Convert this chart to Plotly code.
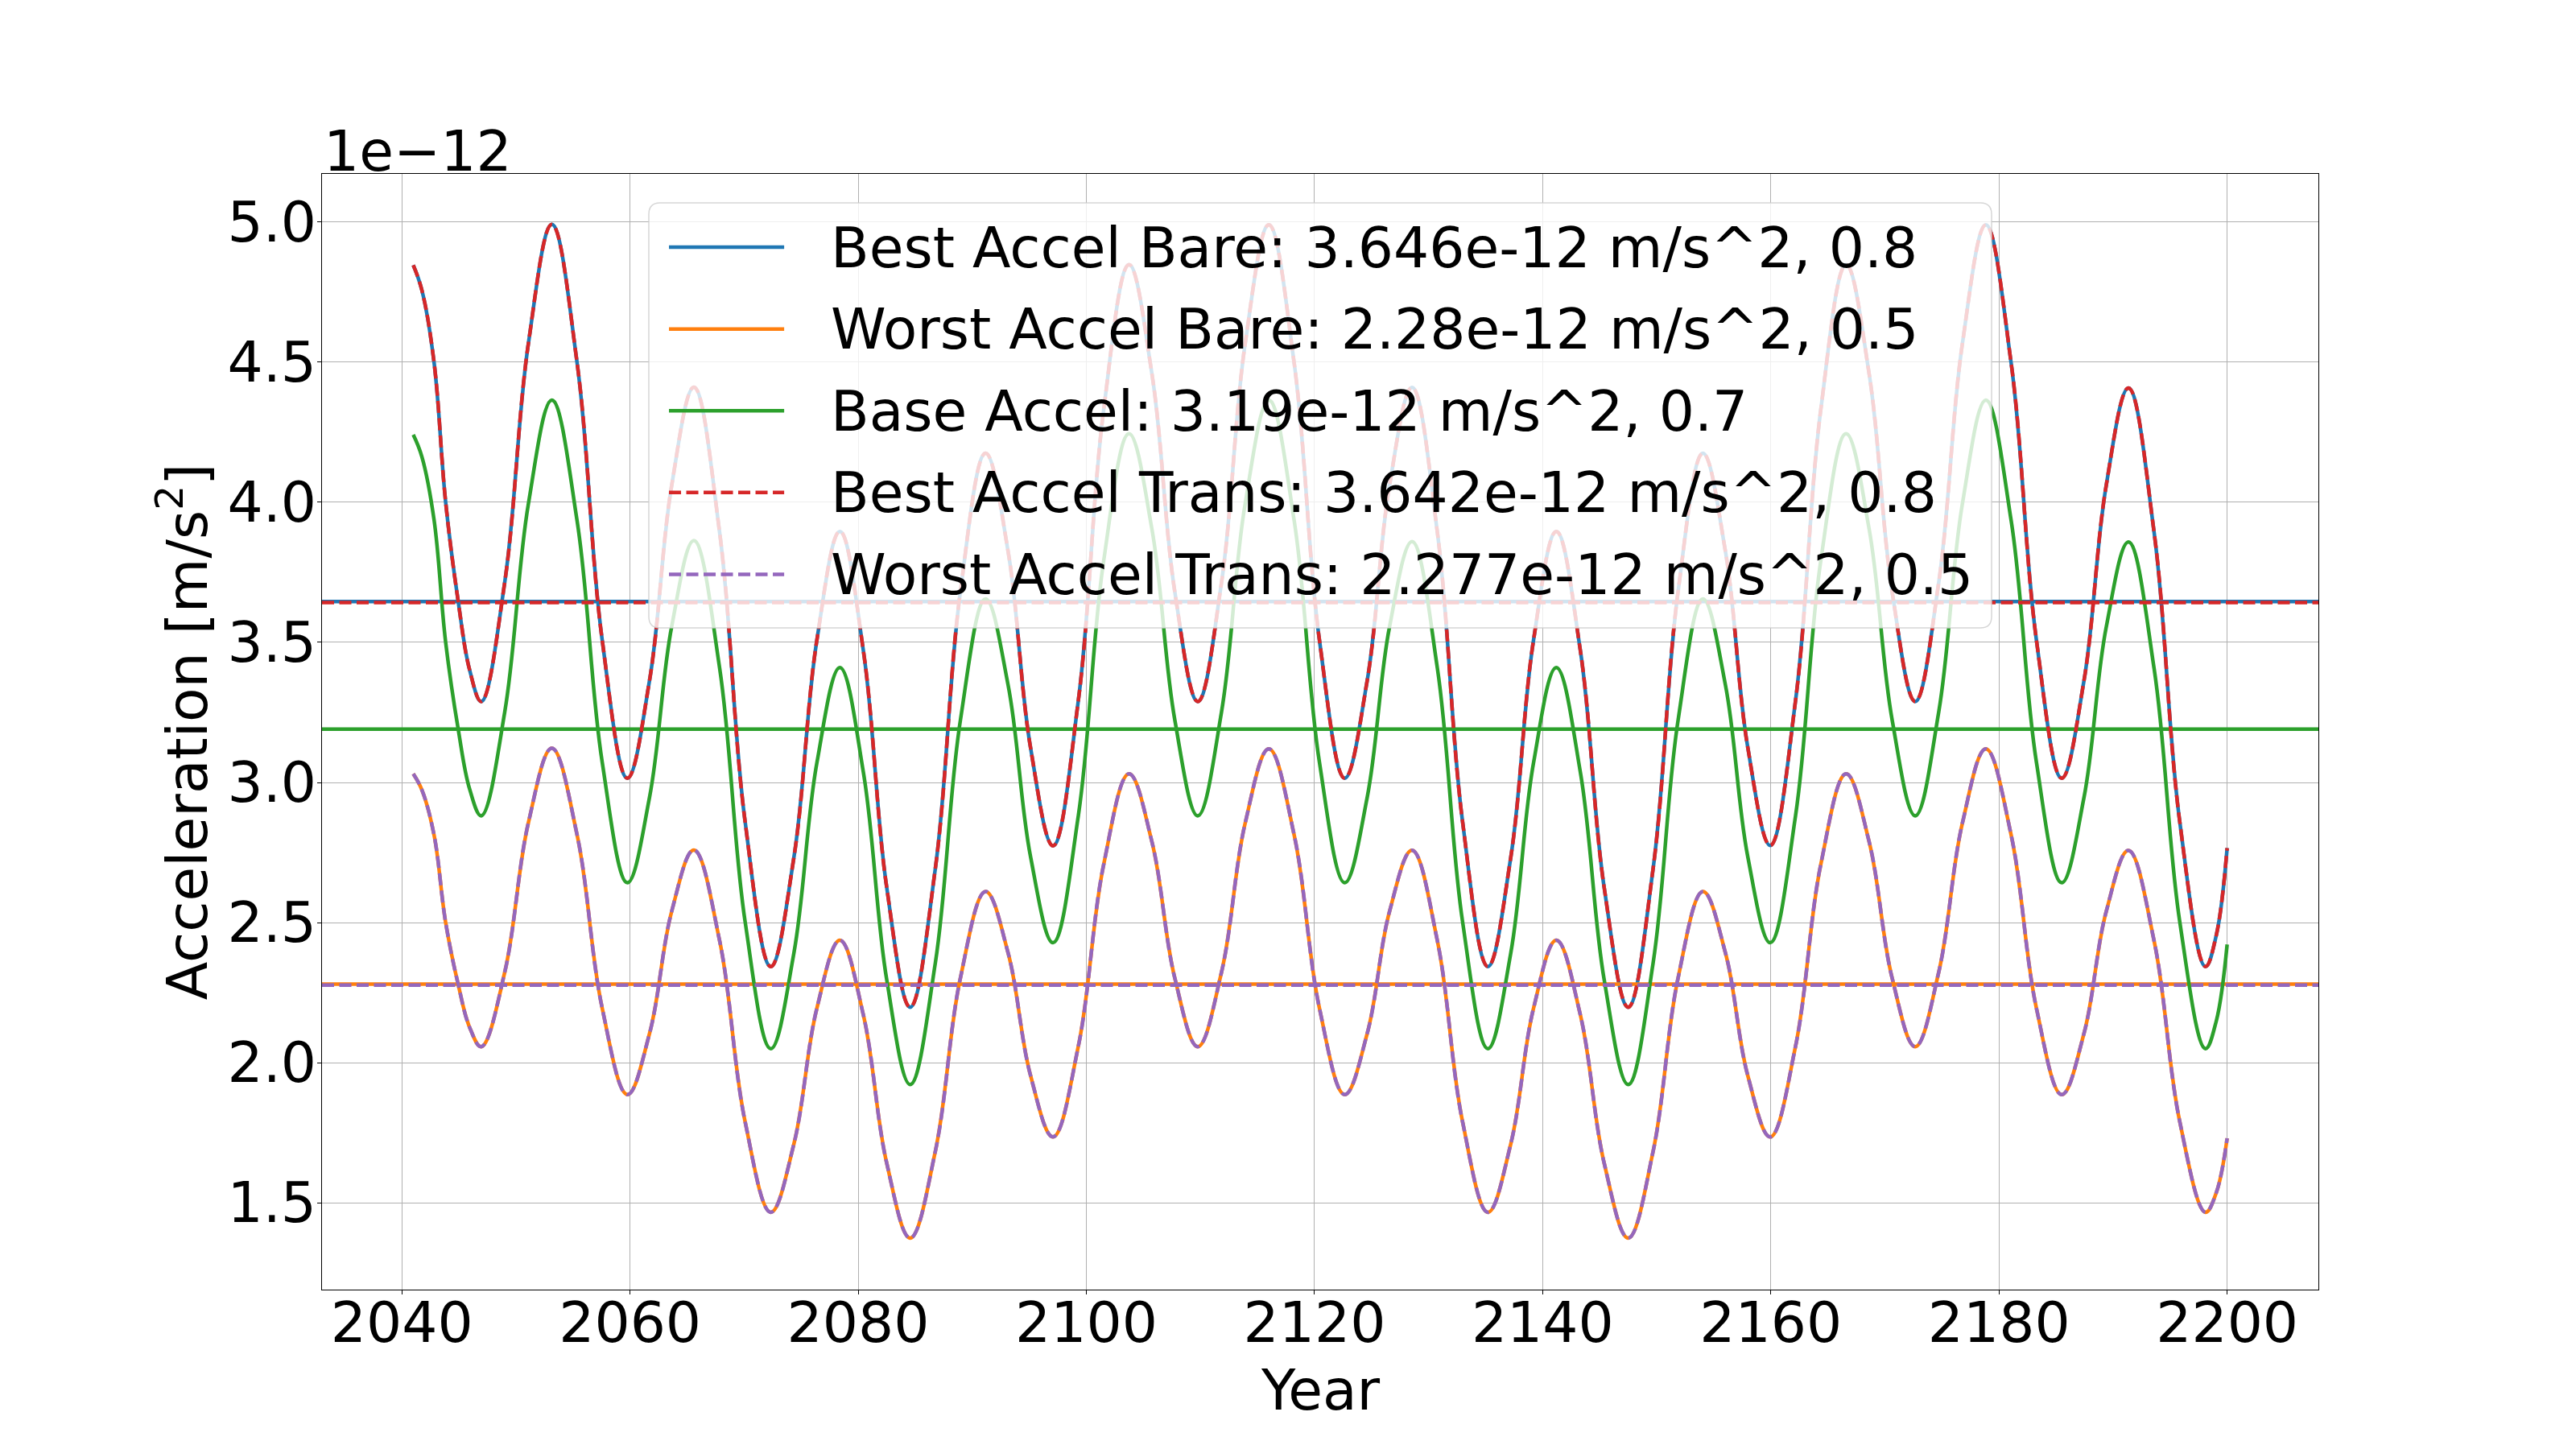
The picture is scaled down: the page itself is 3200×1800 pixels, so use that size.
import plotly.graph_objects as go

# ---------------- data (accelerations in units of 1e-12 m/s^2) ----------------
years = [2041.00, 2041.76, 2042.82, 2043.84, 2044.94, 2045.95, 2046.96,
         2049.02, 2051.09, 2053.15, 2055.36, 2057.56, 2059.77,
         2061.71, 2063.66, 2065.60, 2067.85, 2070.09, 2072.34, 2074.36, 2076.38, 2078.40, 2080.45,
         2082.51, 2084.56, 2086.76, 2088.96, 2091.17, 2093.14, 2095.11, 2097.08, 2099.30, 2101.52,
         2103.74, 2105.75, 2107.76, 2109.77, 2111.85, 2113.92, 2116.00, 2118.22, 2120.43, 2122.65,
         2124.62, 2126.58, 2128.55, 2130.77, 2132.98, 2135.20, 2137.20, 2139.20, 2141.20, 2143.30,
         2145.40, 2147.50, 2149.68, 2151.87, 2154.05, 2156.02, 2157.98, 2159.95, 2162.17, 2164.38,
         2166.60, 2168.62, 2170.64, 2172.66, 2174.72, 2176.79, 2178.85, 2181.07, 2183.28, 2185.50,
         2187.45, 2189.40, 2191.35, 2193.60, 2195.85, 2198.10, 2199.05, 2200.00]

best_bare = [4.846, 4.756, 4.500, 4.000, 3.646, 3.400, 3.289,
             3.715, 4.566, 4.992, 4.498, 3.509, 3.015,
             3.364, 4.062, 4.411, 3.894, 2.860, 2.343, 2.731, 3.508, 3.896, 3.472,
             2.623, 2.198, 2.692, 3.681, 4.175, 3.825, 3.124, 2.774, 3.293, 4.330,
             4.848, 4.458, 3.679, 3.289, 3.714, 4.565, 4.990, 4.496, 3.509, 3.015,
             3.364, 4.061, 4.410, 3.893, 2.860, 2.343, 2.731, 3.508, 3.896, 3.472,
             2.623, 2.198, 2.692, 3.681, 4.175, 3.825, 3.125, 2.775, 3.293, 4.330,
             4.848, 4.458, 3.679, 3.289, 3.714, 4.565, 4.990, 4.496, 3.509, 3.015,
             3.363, 4.060, 4.408, 3.892, 2.859, 2.343, 2.455, 2.766]

worst_bare = [3.031, 2.973, 2.813, 2.500, 2.279, 2.125, 2.057,
              2.323, 2.856, 3.122, 2.813, 2.195, 1.886,
              2.104, 2.541, 2.759, 2.436, 1.789, 1.466, 1.709, 2.194, 2.437, 2.171,
              1.640, 1.374, 1.683, 2.302, 2.611, 2.392, 1.954, 1.735, 2.059, 2.707,
              3.031, 2.788, 2.301, 2.057, 2.323, 2.854, 3.120, 2.812, 2.195, 1.886,
              2.104, 2.540, 2.758, 2.435, 1.789, 1.466, 1.709, 2.194, 2.437, 2.171,
              1.640, 1.374, 1.683, 2.302, 2.611, 2.392, 1.954, 1.735, 2.059, 2.707,
              3.031, 2.788, 2.301, 2.057, 2.323, 2.854, 3.120, 2.812, 2.195, 1.886,
              2.104, 2.539, 2.757, 2.434, 1.789, 1.466, 1.536, 1.730]

base = [4.241, 4.162, 3.938, 3.500, 3.190, 2.975, 2.881,
        3.252, 3.994, 4.365, 3.934, 3.073, 2.642,
        2.947, 3.558, 3.863, 3.410, 2.503, 2.050, 2.390, 3.070, 3.410, 3.038,
        2.294, 1.922, 2.355, 3.222, 3.655, 3.348, 2.735, 2.428, 2.882, 3.791,
        4.245, 3.904, 3.222, 2.881, 3.252, 3.994, 4.365, 3.934, 3.073, 2.642,
        2.947, 3.556, 3.860, 3.408, 2.503, 2.050, 2.390, 3.070, 3.410, 3.038,
        2.294, 1.922, 2.355, 3.222, 3.655, 3.348, 2.735, 2.428, 2.882, 3.791,
        4.245, 3.904, 3.222, 2.881, 3.252, 3.994, 4.365, 3.934, 3.073, 2.642,
        2.946, 3.554, 3.858, 3.406, 2.502, 2.050, 2.149, 2.422]

best_trans = [4.846, 4.756, 4.500, 4.000, 3.646, 3.400, 3.289,
              3.715, 4.566, 4.992, 4.498, 3.509, 3.015,
              3.364, 4.062, 4.411, 3.894, 2.860, 2.343, 2.731, 3.508, 3.896, 3.472,
              2.623, 2.198, 2.692, 3.681, 4.175, 3.825, 3.124, 2.774, 3.293, 4.330,
              4.848, 4.458, 3.679, 3.289, 3.714, 4.565, 4.990, 4.496, 3.509, 3.015,
              3.364, 4.061, 4.410, 3.893, 2.860, 2.343, 2.731, 3.508, 3.896, 3.472,
              2.623, 2.198, 2.692, 3.681, 4.175, 3.825, 3.125, 2.775, 3.293, 4.330,
              4.848, 4.458, 3.679, 3.289, 3.714, 4.565, 4.990, 4.496, 3.509, 3.015,
              3.363, 4.060, 4.408, 3.892, 2.859, 2.343, 2.455, 2.766]

worst_trans = [3.031, 2.973, 2.813, 2.500, 2.279, 2.125, 2.057,
               2.323, 2.856, 3.122, 2.813, 2.195, 1.886,
               2.104, 2.541, 2.759, 2.436, 1.789, 1.466, 1.709, 2.194, 2.437, 2.171,
               1.640, 1.374, 1.683, 2.302, 2.611, 2.392, 1.954, 1.735, 2.059, 2.707,
               3.031, 2.788, 2.301, 2.057, 2.323, 2.854, 3.120, 2.812, 2.195, 1.886,
               2.104, 2.540, 2.758, 2.435, 1.789, 1.466, 1.709, 2.194, 2.437, 2.171,
               1.640, 1.374, 1.683, 2.302, 2.611, 2.392, 1.954, 1.735, 2.059, 2.707,
               3.031, 2.788, 2.301, 2.057, 2.323, 2.854, 3.120, 2.812, 2.195, 1.886,
               2.104, 2.539, 2.757, 2.434, 1.789, 1.466, 1.536, 1.730]

means = [3.646, 2.28, 3.19, 3.642, 2.277]
labels = ["Best Accel Bare: 3.646e-12 m/s^2, 0.8",
          "Worst Accel Bare: 2.28e-12 m/s^2, 0.5",
          "Base Accel: 3.19e-12 m/s^2, 0.7",
          "Best Accel Trans: 3.642e-12 m/s^2, 0.8",
          "Worst Accel Trans: 2.277e-12 m/s^2, 0.5"]
x_ticks = [2040, 2060, 2080, 2100, 2120, 2140, 2160, 2180, 2200]
y_ticks = [1.5, 2.0, 2.5, 3.0, 3.5, 4.0, 4.5, 5.0]
y_ticktext = ["1.5", "2.0", "2.5", "3.0", "3.5", "4.0", "4.5", "5.0"]

series = [best_bare, worst_bare, base, best_trans, worst_trans]
for s in series:
    assert len(s) == len(years)

# ---------------- style ----------------
colors = ["#1f77b4", "#ff7f0e", "#2ca02c", "#d62728", "#9467bd"]
DASH = "15px,6.5px"
dashes = ["solid", "solid", "solid", DASH, DASH]
LW = 4.5
FONT = "DejaVu Sans"
FS = 69.5
X_RANGE = [2033.0, 2208.0]
Y_RANGE = [1.190, 5.172]

fig = go.Figure()
for vals, mean, col, dash in zip(series, means, colors, dashes):
    fig.add_trace(go.Scatter(x=years, y=vals, mode="lines",
                             line=dict(color=col, width=LW, dash=dash, shape="spline", smoothing=1.1),
                             showlegend=False, hoverinfo="skip"))
    fig.add_trace(go.Scatter(x=X_RANGE, y=[mean, mean], mode="lines",
                             line=dict(color=col, width=LW, dash=dash),
                             showlegend=False, hoverinfo="skip"))

axis_common = dict(showline=True, mirror=True, linecolor="black", linewidth=1.2,
                   showgrid=True, gridcolor="#b0b0b0", gridwidth=1.1, zeroline=False,
                   ticks="outside", ticklen=5, tickwidth=1.2, tickcolor="black",
                   tickfont=dict(family=FONT, size=FS, color="black"))

fig.update_layout(
    width=3200, height=1800, autosize=False,
    margin=dict(l=400, r=320, t=216, b=198),
    paper_bgcolor="white", plot_bgcolor="white",
    font=dict(family=FONT, size=FS, color="black"),
    xaxis=dict(range=X_RANGE, tickmode="array", tickvals=x_ticks, ticklabelstandoff=-25,
               **axis_common),
    yaxis=dict(range=Y_RANGE, tickmode="array", tickvals=y_ticks, ticktext=y_ticktext,
               ticklabelstandoff=-13,
               title=dict(text="Acceleration [m/s<sup>2</sup>]", font=dict(family=FONT, size=FS, color="black"),
                          standoff=2),
               **axis_common),
)

annotations = [
    # offset text
    dict(text="1e\u221212", xref="paper", yref="paper", x=0.0, y=1.0,
         xanchor="left", yanchor="bottom", yshift=-14, showarrow=False,
         font=dict(family=FONT, size=FS, color="black")),
    # x-axis title
    dict(text="Year", xref="paper", yref="paper", x=0.5, y=0.0,
         xanchor="center", yanchor="top", yshift=-82, showarrow=False,
         font=dict(family=FONT, size=FS, color="black")),
]

# manual legend (matplotlib-like frame)
lx0, lx1, ly0, ly1 = 0.1637, 0.8363, 0.5931, 0.9740
rx, ry = 14 / 2480, 14 / 1386
path = (f"M {lx0+rx},{ly0} L {lx1-rx},{ly0} Q {lx1},{ly0} {lx1},{ly0+ry} "
        f"L {lx1},{ly1-ry} Q {lx1},{ly1} {lx1-rx},{ly1} L {lx0+rx},{ly1} "
        f"Q {lx0},{ly1} {lx0},{ly1-ry} L {lx0},{ly0+ry} Q {lx0},{ly0} {lx0+rx},{ly0} Z")
shapes = [dict(type="path", path=path, xref="paper", yref="paper", layer="above",
               fillcolor="rgba(255,255,255,0.8)", line=dict(color="rgba(204,204,204,0.8)", width=1.5))]
row_y = [0.9343, 0.8610, 0.7877, 0.7144, 0.6411]
hx0, hx1, tx = 0.1738, 0.2315, 0.2540
for yy, col, dash, lab in zip(row_y, colors, dashes, labels):
    shapes.append(dict(type="line", xref="paper", yref="paper", x0=hx0, x1=hx1, y0=yy, y1=yy,
                       layer="above", line=dict(color=col, width=LW, dash=dash)))
    annotations.append(dict(text=lab, xref="paper", yref="paper", x=tx, y=yy,
                            xanchor="left", yanchor="middle", showarrow=False,
                            font=dict(family=FONT, size=FS, color="black")))

fig.update_layout(shapes=shapes, annotations=annotations)

fig.write_html("out.html", config={"displayModeBar": False},
               post_script="document.body.style.margin='0';")
